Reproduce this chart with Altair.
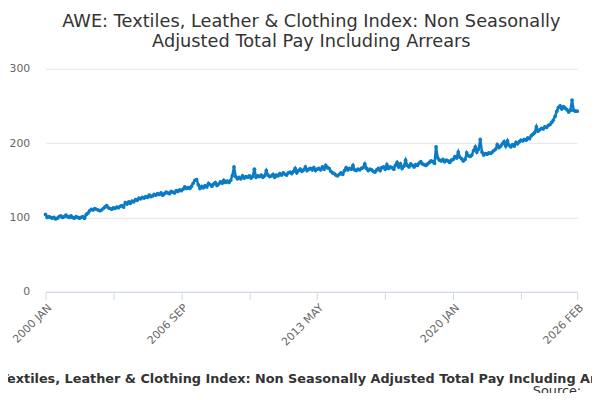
import pandas as pd
import altair as alt

# monthly index values, one list per year
v2000 = [104, 100, 101, 100, 99, 100, 98, 99, 101, 102, 100, 101]
v2001 = [103, 101, 100, 102, 100, 99, 101, 100, 99, 100, 101, 99]
v2002 = [104, 106, 109, 111, 110, 112, 111, 110, 109, 110, 112, 114]
v2003 = [116, 113, 112, 111, 113, 112, 114, 113, 115, 116, 114, 120]
v2004 = [118, 121, 119, 122, 121, 124, 123, 126, 125, 127, 126, 128]
v2005 = [127, 130, 128, 129, 131, 130, 132, 131, 133, 130, 132, 134]
v2006 = [133, 132, 135, 134, 133, 136, 135, 137, 136, 138, 141, 139]
v2007 = [140, 139, 142, 146, 150, 151, 144, 139, 142, 140, 143, 141]
v2008 = [146, 144, 142, 145, 147, 143, 145, 148, 146, 150, 147, 149]
v2009 = [147, 150, 156, 168, 155, 152, 154, 152, 156, 153, 155, 154]
v2010 = [156, 153, 155, 165, 154, 156, 155, 157, 154, 156, 163, 157]
v2011 = [155, 156, 158, 154, 157, 156, 159, 157, 160, 158, 157, 160]
v2012 = [161, 159, 162, 166, 160, 163, 165, 162, 164, 168, 163, 165]
v2013 = [166, 164, 167, 163, 165, 166, 164, 168, 165, 170, 167, 166]
v2014 = [162, 160, 159, 157, 156, 158, 160, 158, 163, 167, 164, 166]
v2015 = [165, 170, 164, 163, 165, 164, 166, 167, 172, 166, 163, 165]
v2016 = [164, 162, 161, 164, 166, 163, 167, 168, 165, 171, 166, 168]
v2017 = [167, 165, 170, 174, 168, 172, 166, 169, 177, 170, 168, 172]
v2018 = [170, 168, 171, 170, 173, 175, 172, 171, 170, 172, 174, 176]
v2019 = [175, 173, 195, 180, 177, 176, 178, 175, 177, 176, 174, 177]
v2020 = [178, 182, 180, 188, 181, 179, 176, 178, 187, 183, 182, 184]
v2021 = [190, 195, 188, 192, 205, 188, 184, 186, 185, 187, 186, 188]
v2022 = [190, 192, 198, 194, 196, 199, 202, 196, 203, 197, 195, 198]
v2023 = [196, 201, 199, 202, 204, 203, 205, 204, 207, 206, 210, 212]
v2024 = [214, 222, 216, 218, 220, 219, 222, 221, 224, 225, 228, 231]
v2025 = [236, 243, 248, 250, 246, 249, 247, 245, 242, 244, 258, 244]
v2026 = [243, 243]

years = [v2000, v2001, v2002, v2003, v2004, v2005, v2006, v2007, v2008,
         v2009, v2010, v2011, v2012, v2013, v2014, v2015, v2016, v2017,
         v2018, v2019, v2020, v2021, v2022, v2023, v2024, v2025, v2026]

rows = []
for i, vals in enumerate(years):
    for m, v in enumerate(vals):
        rows.append({"date": f"{2000 + i}-{m + 1:02d}-01", "value": v})
df = pd.DataFrame(rows)

tick_dates = ["2000-01-01", "2003-05-01", "2006-09-01", "2010-01-01", "2013-05-01",
              "2016-09-01", "2020-01-01", "2023-05-01", "2026-02-01"]
label_dates = ["2000-01", "2006-09", "2013-05", "2020-01", "2026-02"]

TITLE = "AWE: Textiles, Leather & Clothing Index: Non Seasonally Adjusted Total Pay Including Arrears"
BLUE = "#0a7cc4"

line = (
    alt.Chart(df)
    .mark_line(color=BLUE, strokeWidth=2.5, point=alt.OverlayMarkDef(color=BLUE, size=14))
    .encode(
        x=alt.X("date:T", title=None,
                scale=alt.Scale(domain=["2000-01-01", "2026-02-01"]),
                axis=alt.Axis(values=[pd.Timestamp(d).isoformat() for d in tick_dates],
                              labelExpr="indexof(" + str(label_dates).replace("'", '"')
                              + ", timeFormat(datum.value, '%Y-%m')) >= 0 ? upper(timeFormat(datum.value, '%Y %b')) : ''",
                              labelAngle=-45, labelAlign="right", grid=False,
                              domainColor="#ccd6eb", tickColor="#ccd6eb", tickSize=8,
                              labelColor="#666", labelFontSize=11, labelFont="DejaVu Sans")),
        y=alt.Y("value:Q", title=None,
                scale=alt.Scale(domain=[0, 300]),
                axis=alt.Axis(values=[0, 100, 200, 300], domain=False, ticks=False,
                              gridColor="#e6e6e6", labelColor="#666", labelFontSize=11,
                              labelFont="DejaVu Sans", labelPadding=16)),
    )
)

footer = (
    alt.Chart(pd.DataFrame({"t": [TITLE]}))
    .mark_text(fontWeight="bold", fontSize=13, color="#333", font="DejaVu Sans")
    .encode(x=alt.value(254), y=alt.value(314), text="t:N")
)
source = (
    alt.Chart(pd.DataFrame({"t": ["Source:"]}))
    .mark_text(fontSize=13, color="#333", font="DejaVu Sans", align="right")
    .encode(x=alt.value(543), y=alt.value(327), text="t:N")
)

chart = (
    (line + footer + source)
    .properties(
        width=539, height=226,
        autosize=alt.AutoSizeParams(type="none"),
        title=alt.TitleParams(
            ["AWE: Textiles, Leather & Clothing Index: Non Seasonally",
             "Adjusted Total Pay Including Arrears"],
            fontSize=18, fontWeight="normal", color="#333", font="DejaVu Sans",
            anchor="middle", offset=12),
        padding={"left": 38, "top": 59, "right": 15, "bottom": 100},
    )
    .configure_view(stroke=None)
)

chart.save("out.html", embed_options={"renderer": "svg", "actions": False})
